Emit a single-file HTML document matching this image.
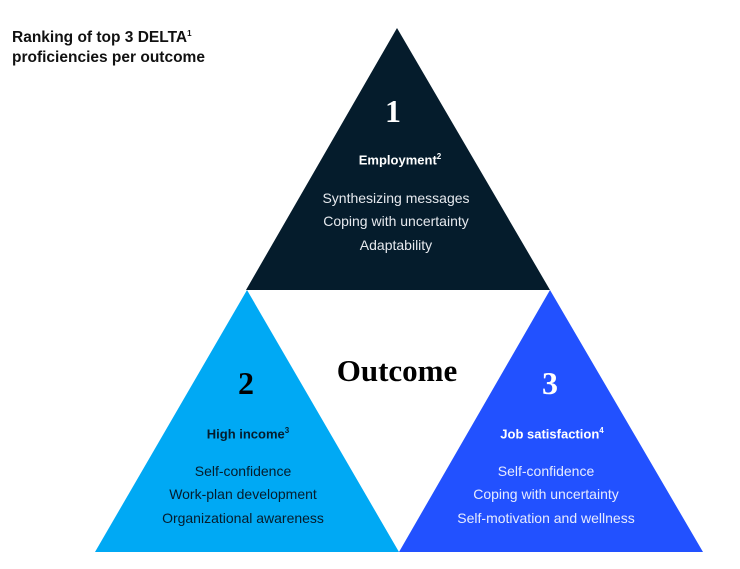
<!DOCTYPE html>
<html><head><style>
html,body{margin:0;padding:0;background:#fff;}
body{width:740px;height:569px;position:relative;overflow:hidden;font-family:"Liberation Sans",sans-serif;}
.t{position:absolute;white-space:nowrap;}
.c{transform:translateX(-50%);text-align:center;}
.title{left:12px;top:24px;font-size:15.5px;font-weight:bold;line-height:20px;color:#111;}
.num{font-family:"Liberation Serif",serif;font-size:32px;font-weight:bold;}
.h{font-size:13px;font-weight:bold;}
.l{font-size:14px;line-height:23.3px;}
sup{font-size:8px;}
</style></head><body>
<svg width="740" height="569" style="position:absolute;left:0;top:0">
<polygon points="397,28 550,290 246,290" fill="#051c2c"/>
<polygon points="247,290 399,552 95,552" fill="#00a9f4"/>
<polygon points="550,290 703,552 399,552" fill="#2251ff"/>
</svg>
<div class="t title">Ranking of top 3 DELTA<sup>1</sup><br>proficiencies per outcome</div>
<div class="t c num" style="left:393px;top:93px;color:#fff;">1</div>
<div class="t c h" style="left:400px;top:152px;color:#fff;">Employment<sup>2</sup></div>
<div class="t c l" style="left:396px;top:187px;color:#e6e9ee;">Synthesizing messages<br>Coping with uncertainty<br>Adaptability</div>
<div class="t c" style="left:397px;top:353px;font-family:'Liberation Serif',serif;font-weight:bold;font-size:31px;color:#000;">Outcome</div>
<div class="t c num" style="left:246px;top:365px;color:#000;">2</div>
<div class="t c h" style="left:248px;top:426px;color:#051c2c;">High income<sup>3</sup></div>
<div class="t c l" style="left:243px;top:460px;color:#051c2c;">Self-confidence<br>Work-plan development<br>Organizational awareness</div>
<div class="t c num" style="left:550px;top:365px;color:#fff;">3</div>
<div class="t c h" style="left:552px;top:426px;color:#fff;">Job satisfaction<sup>4</sup></div>
<div class="t c l" style="left:546px;top:460px;color:#e6ebff;">Self-confidence<br>Coping with uncertainty<br>Self-motivation and wellness</div>
</body></html>
